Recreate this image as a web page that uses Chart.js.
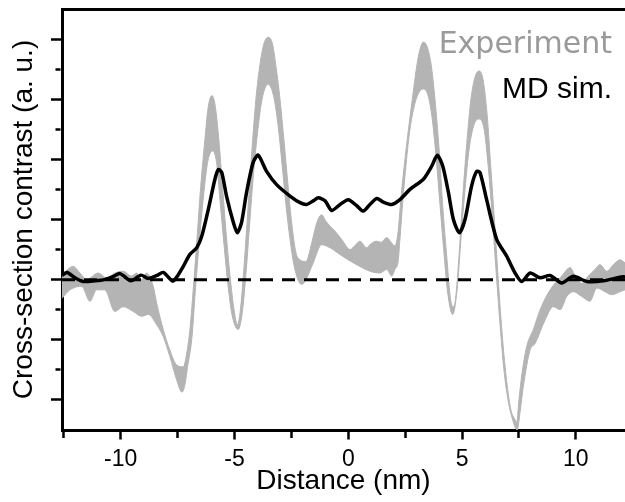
<!DOCTYPE html>
<html>
<head>
<meta charset="utf-8">
<script src="https://cdn.jsdelivr.net/npm/chart.js@4.4.0/dist/chart.umd.min.js"></script>
<style>
    html, body { margin: 0; padding: 0; background: #fff; }
    #box { width: 625px; height: 502px; }
</style>
</head>
<body>
<div id="box"><canvas id="myChart"></canvas></div>
<script>
// experiment band, upper edge (nm, a.u.)
const expHiX = [-12.58, -12.09, -11.79, -11.50, -10.99, -10.62, -10.26, -9.89, -9.52, -9.30, -9.08, -8.86, -8.57, -8.42, -8.13, -7.84, -7.54, -7.25, -7.09, -6.96,
    -6.78, -6.65, -6.48, -6.30, -6.17, -6.00, -5.86, -5.71, -5.55, -5.38, -5.20, -5.02, -4.87, -4.74, -4.59, -4.41, -4.23, -4.06, -3.88, -3.71,
    -3.52, -3.33, -3.16, -3.00, -2.83, -2.65, -2.48, -2.30, -2.12, -1.86, -1.60, -1.38, -1.17, -0.98, -0.80, -0.59, -0.29, 0.08, 0.30, 0.51,
    0.81, 1.00, 1.25, 1.44, 1.69, 1.88, 2.05, 2.19, 2.32, 2.49, 2.67, 2.84, 3.02, 3.15, 3.30, 3.46, 3.64, 3.81, 3.99, 4.16,
    4.34, 4.47, 4.59, 4.71, 4.87, 5.04, 5.22, 5.39, 5.57, 5.75, 5.92, 6.10, 6.27, 6.45, 6.62, 6.80, 6.98, 7.15, 7.33, 7.40,
    7.50, 7.62, 7.84, 8.13, 8.43, 8.87, 9.38, 9.75, 9.97, 10.26, 10.55, 10.84, 11.06, 11.36, 11.65, 11.94, 12.16];
const expHi = [0.08, 0.22, 0.11, 0.0, 0.11, 0.03, 0.11, 0.14, 0.06, 0.11, 0.0, 0.11, -0.11, -0.39, -0.83, -1.17, -1.42, -1.45, -1.2, -0.83,
    0.0, 0.67, 1.57, 2.33, 2.83, 3.06, 2.92, 2.42, 1.67, 0.83, 0.08, -0.5, -0.75, -0.5, 0.17, 1.17, 2.17, 3.0, 3.58, 3.92,
    4.03, 3.92, 3.5, 3.0, 2.33, 1.58, 0.92, 0.45, 0.33, 0.3, 0.62, 0.95, 1.08, 0.97, 0.89, 0.81, 0.67, 0.5, 0.57, 0.64,
    0.53, 0.6, 0.64, 0.62, 0.70, 0.62, 0.56, 0.8, 1.38, 2.0, 2.58, 3.08, 3.58, 3.83, 3.95, 3.88, 3.58, 3.0, 2.17, 1.17,
    0.33, -0.25, -0.45, -0.33, 0.42, 1.42, 2.33, 3.0, 3.37, 3.47, 3.33, 2.75, 1.83, 0.83, -0.17, -1.08, -1.75, -2.17, -2.33, -2.38,
    -2.0, -1.6, -1.11, -0.83, -0.5, -0.17, 0.06, 0.2, 0.06, -0.06, 0.06, 0.17, 0.25, 0.14, 0.25, 0.33, 0.28];

// experiment band, lower edge
const expLoX = [-12.58, -12.23, -11.72, -11.35, -11.06, -10.70, -10.26, -9.89, -9.45, -9.08, -8.79, -8.42, -8.13, -7.84, -7.54, -7.31, -7.18, -7.05, -6.88, -6.70,
    -6.52, -6.34, -6.17, -5.96, -5.79, -5.64, -5.46, -5.29, -5.11, -4.84, -4.67, -4.50, -4.32, -4.15, -3.97, -3.79, -3.52, -3.27, -3.09, -2.91,
    -2.74, -2.56, -2.39, -2.21, -2.05, -1.86, -1.54, -1.17, -0.80, -0.37, 0.08, 0.51, 0.95, 1.39, 1.69, 1.91, 2.05, 2.19, 2.27, 2.40,
    2.54, 2.71, 2.89, 3.06, 3.30, 3.50, 3.68, 3.85, 4.03, 4.21, 4.38, 4.59, 4.78, 4.95, 5.13, 5.31, 5.53, 5.75, 5.97, 6.14,
    6.32, 6.49, 6.67, 6.84, 7.02, 7.20, 7.42, 7.55, 7.69, 7.99, 8.21, 8.65, 9.01, 9.31, 9.60, 9.89, 10.26, 10.62, 10.92, 11.28,
    11.58, 11.94, 12.16];
const expLo = [-0.31, -0.17, -0.11, -0.36, -0.17, -0.17, -0.53, -0.45, -0.53, -0.61, -0.58, -0.75, -0.95, -1.28, -1.67, -1.87, -1.75, -1.42, -1.0, -0.08,
    0.75, 1.47, 1.97, 2.14, 1.95, 1.33, 0.58, -0.08, -0.58, -0.83, -0.58, 0.08, 1.0, 1.83, 2.5, 3.0, 3.25, 3.03, 2.58, 1.92,
    1.25, 0.67, 0.25, 0.0, -0.08, 0.0, 0.28, 0.58, 0.53, 0.42, 0.31, 0.22, 0.14, 0.11, 0.17, 0.06, 0.17, 0.3, 0.67, 1.33,
    1.92, 2.5, 2.87, 3.08, 3.17, 3.07, 2.7, 2.08, 1.25, 0.42, -0.25, -0.58, -0.17, 0.67, 1.5, 2.17, 2.58, 2.67, 2.5, 1.92,
    1.08, 0.17, -0.75, -1.5, -2.0, -2.3, -2.5, -2.2, -1.78, -1.17, -1.06, -0.67, -0.45, -0.5, -0.28, -0.2, -0.28, -0.36, -0.14, -0.2,
    -0.25, -0.2, -0.17];

// MD simulation
const mdX = [-12.58, -12.36, -12.01, -11.66, -11.13, -10.70, -10.34, -10.03, -9.55, -9.11, -8.80, -8.41, -8.13, -7.71, -7.49, -7.25, -6.96, -6.66, -6.44, -6.15,
    -5.86, -5.71, -5.56, -5.35, -5.05, -4.88, -4.69, -4.47, -4.18, -3.96, -3.59, -3.15, -2.56, -2.12, -1.83, -1.54, -1.32, -1.02, -0.73, -0.36,
    0.0, 0.37, 0.66, 0.95, 1.25, 1.54, 1.91, 2.27, 2.71, 3.30, 3.67, 3.91, 4.15, 4.40, 4.62, 4.88, 5.13, 5.42, 5.64, 5.79,
    6.08, 6.52, 6.96, 7.33, 7.62, 7.99, 8.43, 8.87, 9.38, 9.89, 10.48, 11.21, 11.94, 12.16];
const mdY = [0.07, 0.12, 0.03, -0.03, -0.02, 0.0, 0.05, 0.10, -0.02, 0.075, 0.02, 0.07, 0.12, -0.025, 0.07, 0.22, 0.42, 0.53, 0.72, 1.17,
    1.67, 1.83, 1.78, 1.39, 0.95, 0.78, 0.95, 1.45, 1.95, 2.07, 1.80, 1.58, 1.39, 1.28, 1.25, 1.31, 1.36, 1.31, 1.15, 1.25,
    1.33, 1.23, 1.14, 1.25, 1.35, 1.29, 1.25, 1.33, 1.5, 1.67, 1.89, 2.07, 1.89, 1.45, 1.0, 0.78, 1.0, 1.56, 1.80, 1.78,
    1.33, 0.67, 0.39, 0.11, -0.03, 0.11, 0.03, 0.07, -0.055, 0.055, -0.03, -0.02, 0.04, 0.05];

const xMin = -12.58;
const xMax = 12.16;
const yMin = -2.5;
const yMax = 4.5;
const zeroX = [xMin, xMax];
const zeroY = [0, 0];
const xTickVals = [-12.5, -10, -7.5, -5, -2.5, 0, 2.5, 5, 7.5, 10];
const yTickVals = [-2, -1.5, -1, -0.5, 0, 0.5, 1, 1.5, 2, 2.5, 3, 3.5, 4];

const bandGray = "#b4b4b4";
const arial = '"Liberation Sans", Arial, sans-serif';

function pts(xs, ys)
{
    let out = [];
    for (let i = 0; i < xs.length; i++)
    {
        out.push({x: xs[i], y: ys[i]});
    }
    return out;
}

// the two labels in the top right corner
const legendText = {
    id: "legendText",
    afterDraw(chart)
    {
        let c = chart.ctx;
        c.save();
        c.textAlign = "right";
        c.textBaseline = "alphabetic";
        c.fillStyle = "#9a9a9a";
        c.font = '30px "DejaVu Sans"';
        c.fillText("Experiment", 612, 53);
        c.fillStyle = "#000";
        c.font = "30px " + arial;
        c.fillText("MD sim.", 612, 98);
        c.restore();
    }
};

new Chart(document.getElementById("myChart"), {
    type: "line",
    data: {
        datasets: [
            {
                label: "Experiment",
                data: pts(expHiX, expHi),
                borderColor: bandGray,
                backgroundColor: bandGray,
                borderWidth: 1,
                fill: "+1",
                pointRadius: 0,
                cubicInterpolationMode: "monotone",
                order: 3
            },
            {
                label: "Experiment (low)",
                data: pts(expLoX, expLo),
                borderColor: bandGray,
                borderWidth: 1,
                fill: false,
                pointRadius: 0,
                cubicInterpolationMode: "monotone",
                order: 3
            },
            {
                label: "zero",
                data: pts(zeroX, zeroY),
                borderColor: "#000",
                borderWidth: 3,
                borderDash: [13, 9],
                fill: false,
                pointRadius: 0,
                order: 2
            },
            {
                label: "MD sim.",
                data: pts(mdX, mdY),
                borderColor: "#000",
                borderWidth: 3.5,
                fill: false,
                pointRadius: 0,
                tension: 0.25,
                order: 1
            }
        ]
    },
    options: {
        responsive: true,
        maintainAspectRatio: false,
        animation: false,
        layout: {padding: 0},
        plugins: {
            legend: {display: false},
            tooltip: {enabled: false}
        },
        scales: {
            x: {
                type: "linear",
                min: xMin,
                max: xMax,
                afterFit: function (s) { s.height = 72; },
                afterBuildTicks: function (s) { s.ticks = xTickVals.map(v => ({value: v})); },
                ticks: {
                    color: "#000",
                    font: {family: arial, size: 23},
                    padding: 6,
                    maxRotation: 0,
                    autoSkip: false,
                    callback: v => (v % 5 === 0 ? String(v) : "")
                },
                grid: {
                    drawOnChartArea: false,
                    tickLength: 9.5,
                    tickWidth: 2.5,
                    tickColor: "#000",
                    tickBorderDash: c => (c.tick && c.tick.value % 5 !== 0 ? [6, 20] : [])
                },
                border: {color: "#000", width: 3},
                title: {
                    display: true,
                    text: "Distance (nm)",
                    color: "#000",
                    font: {family: arial, size: 28},
                    padding: {top: 0, bottom: 4}
                }
            },
            x2: {
                type: "linear",
                position: "top",
                min: xMin,
                max: xMax,
                afterFit: function (s) { s.height = 9; },
                ticks: {display: false},
                grid: {drawOnChartArea: false, drawTicks: false},
                border: {color: "#000", width: 3}
            },
            y: {
                type: "linear",
                min: yMin,
                max: yMax,
                afterFit: function (s) { s.width = 62; },
                afterBuildTicks: function (s) { s.ticks = yTickVals.map(v => ({value: v})); },
                ticks: {display: false},
                grid: {
                    drawOnChartArea: false,
                    tickLength: 11,
                    tickWidth: 2.5,
                    tickColor: "#000",
                    tickBorderDash: c => (c.tick && c.tick.value % 1 !== 0 ? [0, 4.5, 5, 10] : [])
                },
                border: {color: "#000", width: 3},
                title: {
                    display: true,
                    text: "Cross-section contrast (a. u.)",
                    color: "#000",
                    font: {family: arial, size: 28},
                    padding: {top: 7, bottom: 0}
                }
            }
        }
    },
    plugins: [legendText]
});
</script>
</body>
</html>
